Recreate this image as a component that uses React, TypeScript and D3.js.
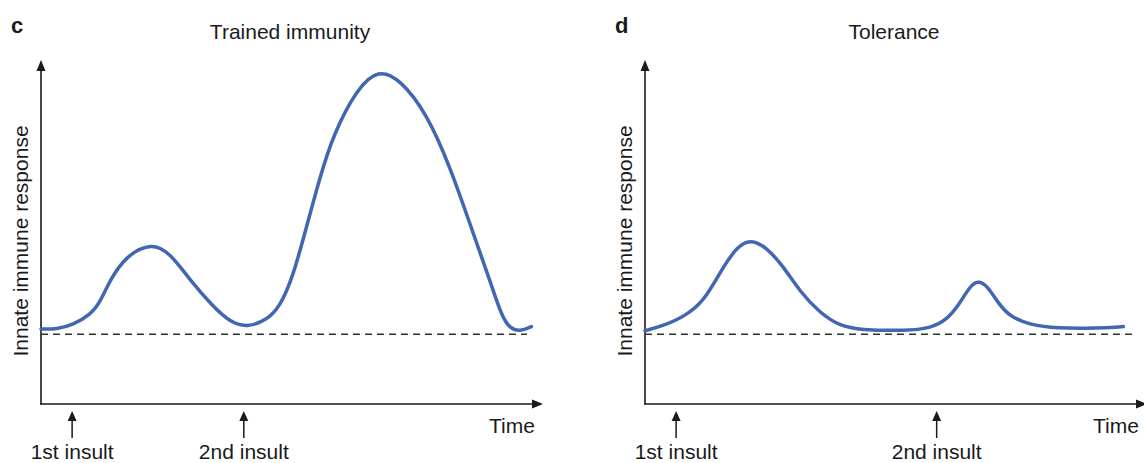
import React from "react";
import * as d3 from "d3";

// ---- Data (time in arbitrary units 0-100, response 0-100) ----
const trainedTime = [0, 3.1, 6.4, 9.8, 11.8, 13.7, 17.1, 22.1, 25.7, 29.7, 34.3, 37.6, 41.0, 45.0, 47.6, 50.2, 52.9, 55.6, 58.2, 62.9, 67.2, 71.5, 76.8, 81.5, 86.1, 89.4, 91.8, 93.4, 95.4, 97.7];
const trainedResp = [21.8, 21.7, 23.0, 25.9, 29.6, 36.0, 43.3, 46.9, 43.9, 36.0, 28.3, 23.9, 22.2, 24.4, 28.3, 37.0, 51.5, 66.1, 78.2, 91.6, 97.4, 94.4, 84.6, 69.0, 49.6, 36.0, 25.4, 22.0, 21.0, 22.5];

const toleranceTime = [0, 4.3, 9.0, 12.3, 15.6, 18.3, 20.9, 24.2, 27.6, 30.9, 34.9, 38.8, 42.8, 52.1, 56.8, 60.1, 62.7, 64.7, 66.3, 68.1, 70.4, 72.7, 76.7, 82.0, 90.0, 95.3];
const toleranceResp = [21.3, 23.0, 26.4, 31.2, 39.9, 45.6, 48.0, 45.6, 39.9, 32.6, 26.4, 22.7, 21.5, 21.3, 22.0, 24.4, 29.2, 34.2, 35.9, 34.6, 29.2, 25.4, 23.0, 22.0, 22.0, 22.5];

const baselineLevel = 20.3;
const baselineEnd = [96.8, 97.0];

const panelLetters = ["c", "d"];
const panelTitles = ["Trained immunity", "Tolerance"];
const insultTimes = [
  [6.2, 40.4],
  [6.2, 58.1],
];
const insultLabels = ["1st insult", "2nd insult"];
const yLabel = "Innate immune response";
const xLabel = "Time";

const W = 1144;
const H = 463;
const panelX = [41, 645];
const axisY = 404;
const FONT = "'Liberation Sans', Arial, Helvetica, sans-serif";
const BLUE = "#4267b2";
const INK = "#1a1a1a";

const x = d3.scaleLinear().domain([0, 100]).range([0, 502]);
const y = d3.scaleLinear().domain([0, 100]).range([axisY, 60]);

const line = d3
  .line<[number, number]>()
  .x((d) => x(d[0]))
  .y((d) => y(d[1]))
  .curve(d3.curveBasis);

function Panel({ idx, times, resp }: { idx: number; times: number[]; resp: number[] }) {
  const pts: [number, number][] = times.map((t, i) => [t, resp[i]]);
  const x0 = x(0);
  const xEnd = x(100);
  const yTop = y(100);
  return (
    <g transform={`translate(${panelX[idx]},0)`}>
      <text x={-30} y={33} fontFamily={FONT} fontWeight="bold" fontSize={22} fill={INK}>
        {panelLetters[idx]}
      </text>
      <text x={249} y={39} textAnchor="middle" fontFamily={FONT} fontSize={21} fill={INK}>
        {panelTitles[idx]}
      </text>
      <line x1={x0} x2={x0} y1={axisY + 0.8} y2={yTop + 8} stroke={INK} strokeWidth={1.6} />
      <path d={`M${x0},${yTop} L${x0 - 4.5},${yTop + 11} L${x0 + 4.5},${yTop + 11} Z`} fill={INK} />
      <line x1={x0 - 0.8} x2={xEnd - 8} y1={axisY} y2={axisY} stroke={INK} strokeWidth={1.6} />
      <path d={`M${xEnd},${axisY} L${xEnd - 11},${axisY - 4.5} L${xEnd - 11},${axisY + 4.5} Z`} fill={INK} />
      <text
        transform={`translate(${-13},${241}) rotate(-90)`}
        textAnchor="middle"
        fontFamily={FONT}
        fontSize={21}
        fill={INK}
      >
        {yLabel}
      </text>
      <text x={471} y={433} textAnchor="middle" fontFamily={FONT} fontSize={21} fill={INK}>
        {xLabel}
      </text>
      <line
        x1={x(0)}
        x2={x(baselineEnd[idx])}
        y1={y(baselineLevel)}
        y2={y(baselineLevel)}
        stroke="#333"
        strokeWidth={1.5}
        strokeDasharray="7 5"
      />
      <path d={line(pts) || ""} fill="none" stroke={BLUE} strokeWidth={3.5} strokeLinecap="round" />
      {insultTimes[idx].map((t, i) => (
        <g key={i}>
          <line x1={x(t)} x2={x(t)} y1={438} y2={418} stroke={INK} strokeWidth={1.5} />
          <path d={`M${x(t)},${411} L${x(t) - 4.5},${421} L${x(t) + 4.5},${421} Z`} fill={INK} />
          <text x={x(t)} y={459} textAnchor="middle" fontFamily={FONT} fontSize={21} fill={INK}>
            {insultLabels[i]}
          </text>
        </g>
      ))}
    </g>
  );
}

export default function App() {
  return (
    <svg
      width={W}
      height={H}
      viewBox={`0 0 ${W} ${H}`}
      style={{ position: "absolute", left: 0, top: 0, background: "#fff" }}
    >
      <rect width={W} height={H} fill="#fff" />
      <Panel idx={0} times={trainedTime} resp={trainedResp} />
      <Panel idx={1} times={toleranceTime} resp={toleranceResp} />
    </svg>
  );
}
